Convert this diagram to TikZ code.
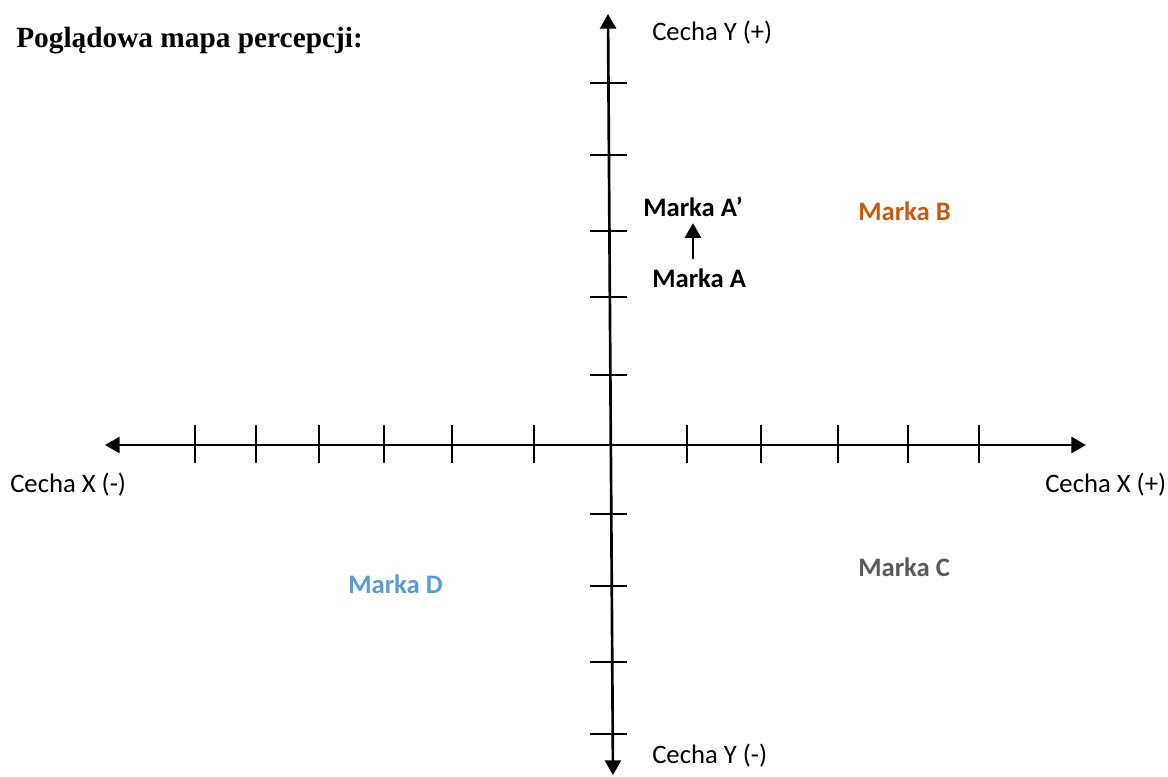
\documentclass[tikz,border=0pt]{standalone}
\usepackage{fontspec}
\setmainfont{Liberation Serif}
\newfontfamily\calibri{Carlito}
\usetikzlibrary{arrows.meta}
\definecolor{markaBcol}{HTML}{C55A11}
\definecolor{markaCcol}{HTML}{595959}
\definecolor{markaDcol}{HTML}{5B9BD5}
\tikzset{
  lbl/.style={anchor=base west, inner sep=0pt, font=\calibri\fontsize{20}{24}\selectfont},
  marka/.style={lbl, font=\calibri\bfseries\fontsize{20}{24}\selectfont},
  axis/.style={line width=2pt, {Triangle[length=11pt,width=12pt]}-{Triangle[length=11pt,width=12pt]}},
  tickmark/.style={line width=1.5pt},
}
\begin{document}
\begin{tikzpicture}[x=0.75pt,y=-0.75pt,>={Triangle[length=11pt,width=12pt]}]
\useasboundingbox (0,0) rectangle (1168,776);

% axes
\coordinate (xmin) at (105,445);
\coordinate (xmax) at (1086,445);
\coordinate (ymax) at (608,14);
\coordinate (ymin) at (613,775);
\draw[axis] (xmin) -- (xmax);
\draw[axis] (ymin) -- (ymax);

% ticks
\foreach \x in {195,256,319,384,452,534,687,761,838,908,979}
  \draw[tickmark] (\x,425) -- (\x,463);
\foreach \y in {83,155,231,297,375,514,586,662,734}
  \draw[tickmark] (590,\y) -- (627,\y);

\node[anchor=base west, inner sep=0pt, font=\bfseries\fontsize{22}{26}\selectfont] (title) at (16,47) {Poglądowa mapa percepcji:};

\node[lbl] (cechaYp) at (652,40) {Cecha Y (+)};
\node[lbl] (cechaYm) at (652,763) {Cecha Y (-)};
\node[lbl] (cechaXm) at (10,492) {Cecha X (-)};
\node[lbl] (cechaXp) at (1045,492) {Cecha X (+)};

\node[marka] (markaAp) at (643,216) {Marka A’};
\node[marka] (markaA) at (652,287) {Marka A};
\node[marka, text=markaBcol] (markaB) at (858,220) {Marka B};
\node[marka, text=markaCcol] (markaC) at (858,576) {Marka C};
\node[marka, text=markaDcol] (markaD) at (348,593) {Marka D};

\draw[line width=2pt, ->, shorten <=6.5pt, shorten >=5pt] (markaA.north -| markaAp.south) -- (markaAp.south);
\end{tikzpicture}
\end{document}
